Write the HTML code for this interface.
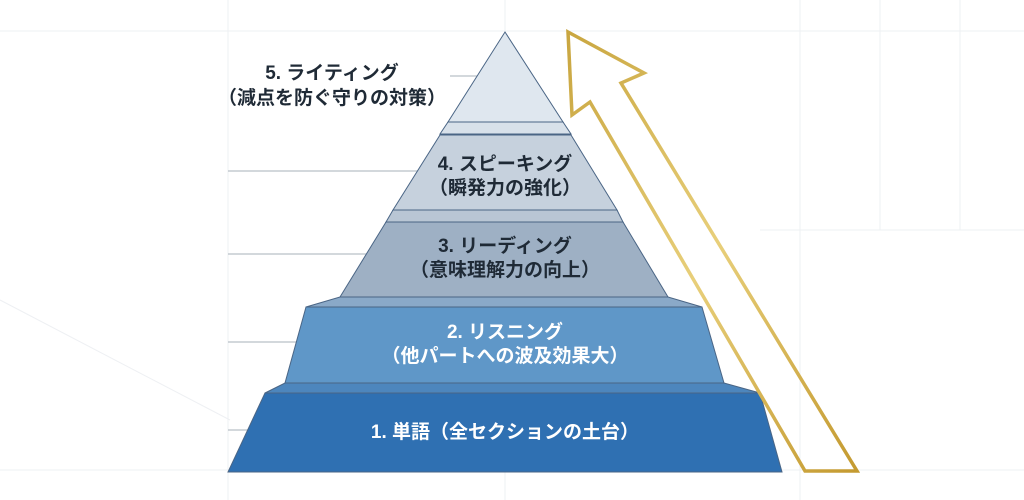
<!DOCTYPE html>
<html><head><meta charset="utf-8"><style>
html,body{margin:0;padding:0;background:#fff;}
body{width:1024px;height:500px;overflow:hidden;position:relative;font-family:"Liberation Sans","Noto Sans CJK JP",sans-serif;}
</style></head><body>
<svg width="1024" height="500" viewBox="0 0 1024 500" xmlns="http://www.w3.org/2000/svg" style="position:absolute;left:0;top:0">
<defs>
<linearGradient id="gold" x1="0" y1="0" x2="1" y2="1">
<stop offset="0" stop-color="#c9a640"/><stop offset="0.5" stop-color="#e8cf7a"/><stop offset="1" stop-color="#c49a30"/>
</linearGradient>
</defs>
<g stroke="#eef0f3" stroke-width="1" fill="none">
<line x1="0" y1="31" x2="1024" y2="31"/>
<line x1="228" y1="0" x2="228" y2="500"/>
<line x1="505" y1="0" x2="505" y2="500"/>
<line x1="800" y1="0" x2="800" y2="500"/>
<line x1="0" y1="470" x2="1024" y2="470"/>
<line x1="760" y1="230" x2="1024" y2="230"/>
<line x1="880" y1="0" x2="880" y2="230"/>
<line x1="960" y1="0" x2="960" y2="230"/>
<line x1="0" y1="300" x2="230" y2="420"/>
</g>
<g stroke="#b9c0c8" stroke-width="1.2">
<line x1="450" y1="76" x2="482" y2="76"/>
<line x1="228" y1="171" x2="430" y2="171"/>
<line x1="228" y1="254" x2="380" y2="254"/>
<line x1="228" y1="342" x2="300" y2="342"/>
<line x1="228" y1="430" x2="260" y2="430"/>
</g>
<g stroke="#4a6585" stroke-width="1">
<polygon points="448,122 563,122 571,134 440,134" fill="#d8e1ea"/>
<polygon points="393,210 617,210 623,222 386,222" fill="#b9c6d4"/>
<polygon points="340,297 668,297 702,307 306,307" fill="#8aa9c8"/>
<polygon points="285,383 724,383 760,393 265,393" fill="#4d86bd"/>
<polygon points="505,32 563,122 448,122" fill="#dfe7ef"/>
<polygon points="440,135 571,135 617,210 393,210" fill="#c6d1dd"/>
<polygon points="386,222 623,222 668,297 340,297" fill="#9eb0c4"/>
<polygon points="306,307 702,307 724,383 285,383" fill="#5f97c8"/>
<polygon points="265,393 760,393 782,472 228,472" fill="#2f70b2"/>
</g>
<polygon points="568,32 644,73 621,83 857,471 805,471 590,102 572,115" fill="none" stroke="url(#gold)" stroke-width="3.5" stroke-linejoin="miter"/>
<g font-weight="bold" font-size="19" text-anchor="middle" font-family="Liberation Sans, Noto Sans CJK JP, sans-serif">
<text x="332" y="79" fill="#1f2a36">5. ライティング</text>
<text x="332" y="104" fill="#1f2a36">（減点を防ぐ守りの対策）</text>
<text x="505" y="170" fill="#1f2a36">4. スピーキング</text>
<text x="505" y="194" fill="#1f2a36">（瞬発力の強化）</text>
<text x="505" y="252" fill="#1f2a36">3. リーディング</text>
<text x="505" y="276" fill="#1f2a36">（意味理解力の向上）</text>
<text x="505" y="338" fill="#ffffff">2. リスニング</text>
<text x="505" y="362" fill="#ffffff">（他パートへの波及効果大）</text>
<text x="505" y="438" fill="#ffffff">1. 単語（全セクションの土台）</text>
</g>
</svg>
</body></html>
